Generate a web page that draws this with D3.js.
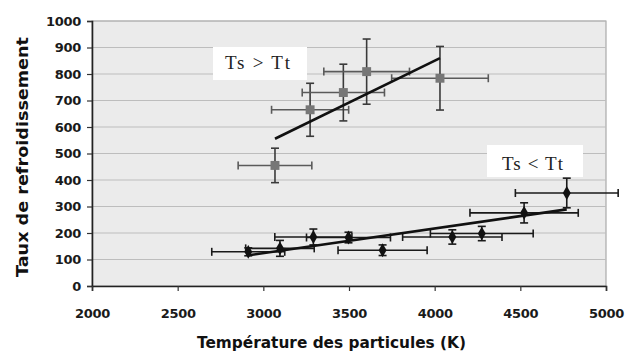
<!DOCTYPE html>
<html><head><meta charset="utf-8">
<script src="https://cdn.jsdelivr.net/npm/d3@7"></script>
<style>body{margin:0;background:#fff}svg{display:block}</style>
</head><body>
<svg id="c" width="625" height="354"></svg>
<script>
// Series "Ts > Tt" (grey squares)
const hotT    = [3068, 3273, 3467, 3603, 4031];
const hotV    = [455, 665, 730, 809, 784];
const hotTerr = [215, 225, 240, 250, 282];
const hotVerr = [65, 100, 107, 123, 120];
// Series "Ts < Tt" (black diamonds)
const coldT    = [2912, 3097, 3292, 3497, 3696, 4103, 4275, 4522, 4771];
const coldV    = [129, 142, 185, 183, 135, 185, 198, 276, 351];
const coldTerr = [213, 200, 225, 245, 260, 290, 300, 316, 300];
const coldVerr = [15, 30, 30, 20, 20, 27, 27, 38, 56];
const xTicks = [2000, 2500, 3000, 3500, 4000, 4500, 5000];
const yTicks = [0, 100, 200, 300, 400, 500, 600, 700, 800, 900, 1000];
const labels = ["Ts > Tt", "Ts < Tt"];
const xTitle = "Température des particules (K)";
const yTitle = "Taux de refroidissement";

const svg = d3.select("#c");
const L = 92, R = 606, T = 21, B = 286;
const x = d3.scaleLinear().domain([2000, 5000]).range([L, R]);
const y = d3.scaleLinear().domain([0, 1000]).range([B, T]);

svg.append("rect").attr("x", L).attr("y", T).attr("width", R - L).attr("height", B - T)
  .attr("fill", "#ebebeb").attr("stroke", "#9a9a9a").attr("stroke-width", 1);

svg.append("g").selectAll("line").data(yTicks.filter(d => d > 0)).join("line")
  .attr("x1", L).attr("x2", R).attr("y1", d => y(d)).attr("y2", d => y(d))
  .attr("stroke", "#bdbdbd").attr("stroke-width", 1.2);

const font = "'DejaVu Sans', Verdana, sans-serif";
const yAxis = svg.append("g").attr("transform", `translate(${L},0)`)
  .call(d3.axisLeft(y).tickValues(yTicks).tickSize(5).tickPadding(6).tickFormat(d3.format("d")));
const xAxis = svg.append("g").attr("transform", `translate(0,${B})`)
  .call(d3.axisBottom(x).tickValues(xTicks).tickSize(5).tickPadding(18).tickFormat(d3.format("d")));
[yAxis, xAxis].forEach(a => {
  a.select(".domain").attr("stroke", "#222").attr("stroke-width", 1.6);
  a.selectAll(".tick line").attr("stroke", "#333").attr("stroke-width", 1.2);
  a.selectAll("text").attr("font-family", font).attr("font-weight", "bold")
    .attr("font-size", 13).attr("fill", "#1a1a1a").attr("letter-spacing", "-0.3px");
});

function fit(xs, ys) {
  const mx = d3.mean(xs), my = d3.mean(ys);
  const sxy = d3.sum(xs, (v, i) => (v - mx) * (ys[i] - my));
  const sxx = d3.sum(xs, v => (v - mx) * (v - mx));
  const b = sxy / sxx, a = my - b * mx;
  const x0 = d3.min(xs), x1 = d3.max(xs);
  return [[x0, a + b * x0], [x1, a + b * x1]];
}

function drawSeries(Ts, Vs, Te, Ve, hcol, vcol, markerCol, shape, size) {
  const g = svg.append("g");
  const cap = 4;
  Ts.forEach((t, i) => {
    const cx = x(t), cy = y(Vs[i]);
    const xl = x(t - Te[i]), xr = x(t + Te[i]);
    g.append("line").attr("x1", xl).attr("x2", xr).attr("y1", cy).attr("y2", cy)
      .attr("stroke", hcol).attr("stroke-width", 1.6);
    [xl, xr].forEach(px => g.append("line").attr("x1", px).attr("x2", px)
      .attr("y1", cy - cap).attr("y2", cy + cap).attr("stroke", hcol).attr("stroke-width", 1.6));
    const yt = y(Vs[i] + Ve[i]), yb = y(Vs[i] - Ve[i]);
    g.append("line").attr("x1", cx).attr("x2", cx).attr("y1", yt).attr("y2", yb)
      .attr("stroke", vcol).attr("stroke-width", 1.6);
    [yt, yb].forEach(py => g.append("line").attr("x1", cx - cap).attr("x2", cx + cap)
      .attr("y1", py).attr("y2", py).attr("stroke", vcol).attr("stroke-width", 1.6));
  });
  g.selectAll("path.m").data(Ts).join("path").attr("class", "m")
    .attr("transform", (t, i) => `translate(${x(t)},${y(Vs[i])})`)
    .attr("d", d3.symbol().type(shape).size(size))
    .attr("fill", markerCol);
  const ln = fit(Ts, Vs);
  svg.append("line").attr("x1", x(ln[0][0])).attr("y1", y(ln[0][1]))
    .attr("x2", x(ln[1][0])).attr("y2", y(ln[1][1]))
    .attr("stroke", "#111").attr("stroke-width", 2.6);
}

drawSeries(hotT, hotV, hotTerr, hotVerr, "#5a5a5a", "#3a3a3a", "#777", d3.symbolSquare, 80);
drawSeries(coldT, coldV, coldTerr, coldVerr, "#1a1a1a", "#1a1a1a", "#111", d3.symbolDiamond, 55);

// Labels
const boxes = [[213, 47, 94, 33, 225, 69, 65], [487, 145, 96, 32, 502, 170, 61]];
boxes.forEach((b, i) => {
  svg.append("rect").attr("x", b[0]).attr("y", b[1]).attr("width", b[2]).attr("height", b[3]).attr("fill", "#fff");
  svg.append("text").attr("x", b[4]).attr("y", b[5])
    .attr("font-family", "'Liberation Serif', 'Times New Roman', serif").attr("font-size", 19)
    .attr("textLength", b[6]).attr("lengthAdjust", "spacing")
    .attr("fill", "#222").text(labels[i]);
});

svg.append("text").attr("x", 197).attr("y", 348)
  .attr("font-family", font).attr("font-weight", "bold").attr("font-size", 15)
  .attr("textLength", 269).attr("lengthAdjust", "spacingAndGlyphs")
  .attr("fill", "#111").text(xTitle);
svg.append("text").attr("transform", "translate(28,277) rotate(-90)")
  .attr("font-family", font).attr("font-weight", "bold").attr("font-size", 15)
  .attr("textLength", 240).attr("lengthAdjust", "spacingAndGlyphs")
  .attr("fill", "#111").text(yTitle);
</script>
</body></html>
